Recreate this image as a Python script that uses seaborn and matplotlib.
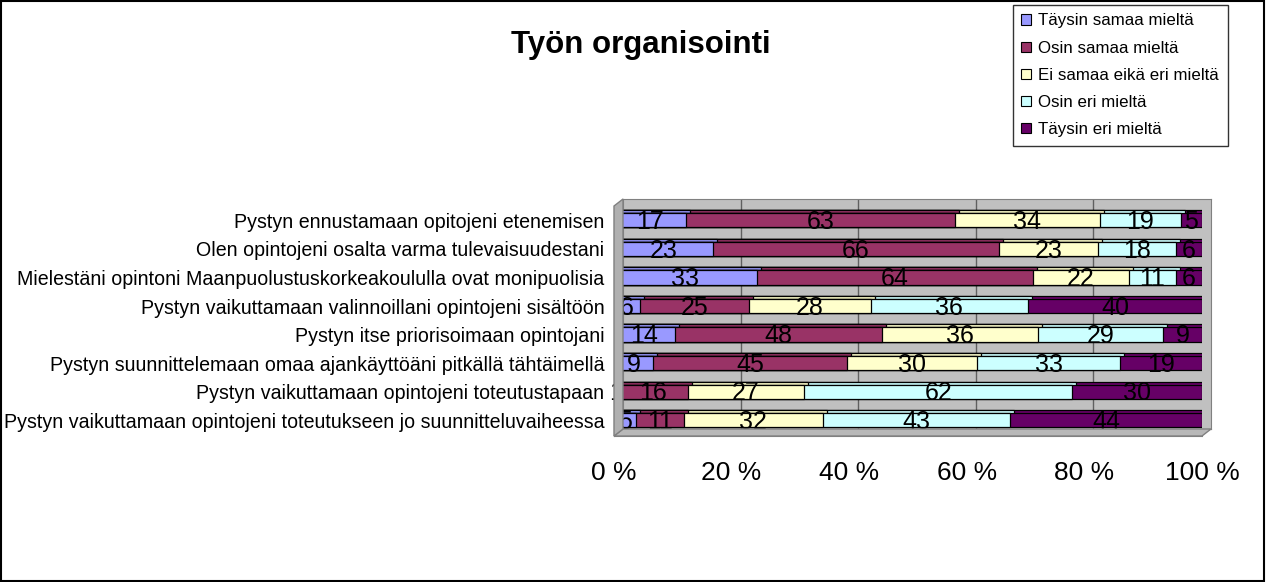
import numpy as np
import pandas as pd
import seaborn as sns
import matplotlib.pyplot as plt
from matplotlib.patches import Polygon, Rectangle
from matplotlib.transforms import ScaledTranslation

statements = [
    "Pystyn ennustamaan opitojeni etenemisen",
    "Olen opintojeni osalta varma tulevaisuudestani",
    "Mielestäni opintoni Maanpuolustuskorkeakoululla ovat monipuolisia",
    "Pystyn vaikuttamaan valinnoillani opintojeni sisältöön",
    "Pystyn itse priorisoimaan opintojani",
    "Pystyn suunnittelemaan omaa ajankäyttöäni pitkällä tähtäimellä",
    "Pystyn vaikuttamaan opintojeni toteutustapaan",
    "Pystyn vaikuttamaan opintojeni toteutukseen jo suunnitteluvaiheessa",
]
responses = ["Täysin samaa mieltä", "Osin samaa mieltä", "Ei samaa eikä eri mieltä",
             "Osin eri mieltä", "Täysin eri mieltä"]
colors = ["#9999FF", "#993366", "#FFFFCC", "#CCFFFF", "#660066"]

taysin_samaa = [17, 23, 33, 6, 14, 9, 1, 5]
osin_samaa = [63, 66, 64, 25, 48, 45, 16, 11]
ei_samaa_eika_eri = [34, 23, 22, 28, 36, 30, 27, 32]
osin_eri = [19, 18, 11, 36, 29, 33, 62, 43]
taysin_eri = [5, 6, 6, 40, 9, 19, 30, 44]

x_ticks = [0, 20, 40, 60, 80, 100]
x_ticklabels = ["0 %", "20 %", "40 %", "60 %", "80 %", "100 %"]

counts = pd.DataFrame({
    responses[0]: taysin_samaa,
    responses[1]: osin_samaa,
    responses[2]: ei_samaa_eika_eri,
    responses[3]: osin_eri,
    responses[4]: taysin_eri,
}, index=statements)

# 100 % stacked -> share of each row
pct = counts.div(counts.sum(axis=1), axis=0) * 100
cum = pct.cumsum(axis=1)
left = cum - pct

sns.set_style("white")
plt.rcParams["font.family"] = ["Liberation Sans", "DejaVu Sans"]
plt.rcParams["text.color"] = "black"
plt.rcParams["xtick.labelcolor"] = "black"
plt.rcParams["ytick.labelcolor"] = "black"

W, H = 1266, 582
fig = plt.figure(figsize=(W / 100, H / 100), dpi=100)


def fx(px):
    return px / W


def fy(py):
    return 1 - py / H


# front plane of the bars (pixel box) and depth of the wall
x0, x1, y_top, y_bot = 614, 1202, 206, 436
dx, dy = 9, 7

# back wall
wall = fig.add_axes([fx(x0 + dx), fy(y_bot - dy), fx(x1 - x0), (y_bot - y_top) / H])
wall.set_facecolor("#C0C0C0")
wall.set_xlim(0, 100)
wall.set_xticks([20, 40, 60, 80])
wall.set_yticks([])
wall.tick_params(length=0, labelbottom=False)
wall.grid(axis="x", color="#606060", linewidth=1)
for s in wall.spines.values():
    s.set_color("#808080")

# floor and side wall
floor = Polygon([(fx(x0), fy(y_bot)), (fx(x1), fy(y_bot)), (fx(x1 + dx), fy(y_bot - dy)),
                 (fx(x0 + dx), fy(y_bot - dy))], closed=True, transform=fig.transFigure,
                facecolor="#B8B8B8", edgecolor="#808080", linewidth=1)
side = Polygon([(fx(x0), fy(y_bot)), (fx(x0), fy(y_top)), (fx(x0 + dx), fy(y_top - dy)),
                (fx(x0 + dx), fy(y_bot - dy))], closed=True, transform=fig.transFigure,
               facecolor="#B0B0B0", edgecolor="#808080", linewidth=1)
fig.patches.extend([floor, side])

ax = fig.add_axes([fx(x0), fy(y_bot), fx(x1 - x0), (y_bot - y_top) / H])
ax.patch.set_alpha(0)

# depth of the bars: same bars, shifted a few pixels up and right
depth = ScaledTranslation(4 / 100, 3 / 100, fig.dpi_scale_trans)
for layer in ["back", "front"]:
    # widest cumulative first so each segment sits on top of the next
    for i in reversed(range(len(responses))):
        n0 = len(ax.patches)
        df = pd.DataFrame({"statement": statements, "value": cum.iloc[:, i].values})
        sns.barplot(data=df, x="value", y="statement", order=statements, orient="h",
                    color=colors[i], saturation=1, width=0.5, edgecolor="black",
                    linewidth=0.9, ax=ax)
        if layer == "back":
            for p in ax.patches[n0:]:
                p.set_transform(ax.transData + depth)

for j, st in enumerate(statements):
    for i, resp in enumerate(responses):
        ax.text(left.loc[st, resp] + pct.loc[st, resp] / 2, j + 0.06, str(counts.loc[st, resp]),
                ha="center", va="center", fontsize=18, color="black", zorder=5)

ax.set_xlim(0, 100)
ax.set_ylim(7.55, -0.5)
ax.set_xticks(x_ticks)
ax.set_xticklabels(x_ticklabels, fontsize=19)
ax.set_yticks(np.arange(len(statements) - 1) + 0.5, minor=True)
ax.set_xlabel("")
ax.set_ylabel("")
ax.tick_params(axis="y", which="major", labelsize=14.1, length=0, pad=7)
ax.tick_params(axis="y", which="minor", length=5, color="#808080", direction="out")
ax.tick_params(axis="x", length=5, color="#808080", pad=13)
for name, s in ax.spines.items():
    s.set_visible(name in ("bottom", "left"))
    s.set_color("#808080")

# legend in its own box, upper right
handles = [Rectangle((0, 0), 1, 1, facecolor=c, edgecolor="black", linewidth=0.8) for c in colors]
fig.legend(handles, responses, loc="upper left", bbox_to_anchor=(fx(1013), fy(5)),
           frameon=True, fancybox=False, edgecolor="black", fontsize=12.2,
           handlelength=0.55, handleheight=0.55, handletextpad=0.45, labelspacing=0.72,
           borderpad=0.5, borderaxespad=0)

fig.text(fx(641), fy(45), "Työn organisointi", ha="center", va="center",
         fontsize=22.5, fontweight="bold")

fig.patches.append(Rectangle((0.0008, 0.001), 0.998, 0.997, transform=fig.transFigure,
                             fill=False, edgecolor="black", linewidth=1.5))

fig.savefig("out.png", dpi=100)
